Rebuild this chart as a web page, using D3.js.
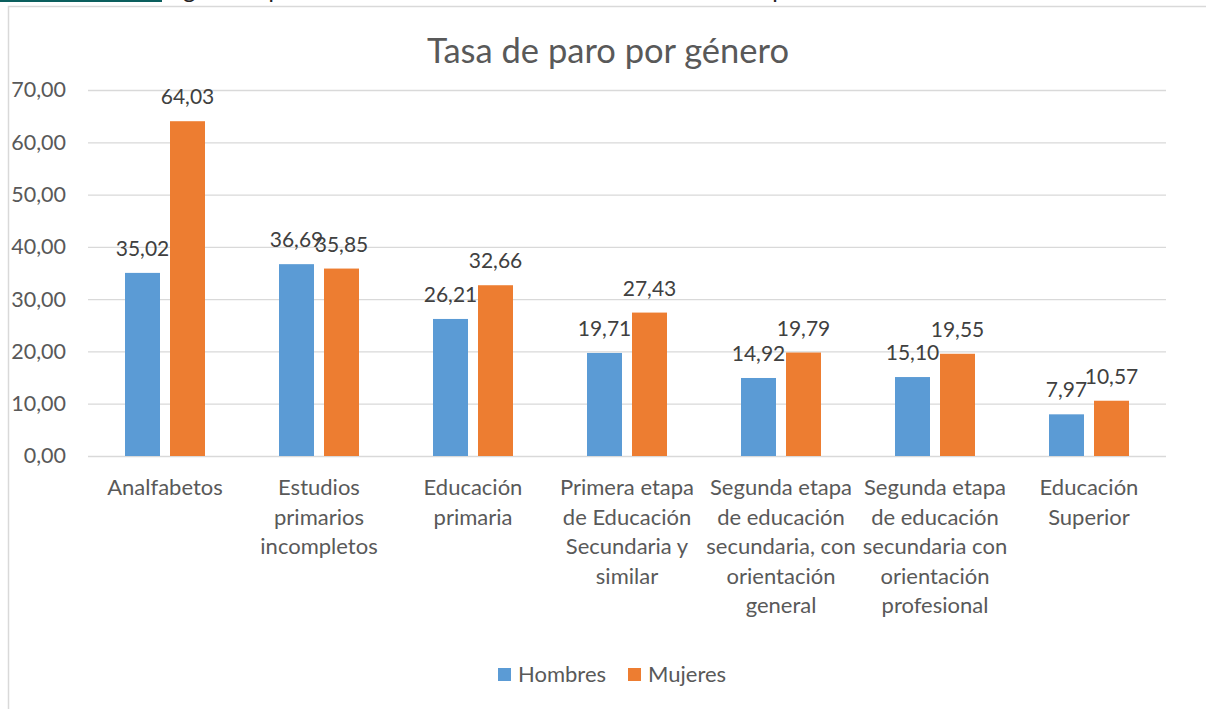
<!DOCTYPE html>
<html><head><meta charset="utf-8">
<script src="https://cdn.jsdelivr.net/npm/d3@7"></script>
<style>
body{margin:0;background:#fff;}
svg{display:block;font-family:Lato, "Noto Sans", sans-serif;}
</style></head>
<body><svg id="c" width="1206" height="709"></svg>
<script>
const categories = ["Analfabetos","Estudios primarios incompletos","Educación primaria","Primera etapa de Educación Secundaria y similar","Segunda etapa de educación secundaria, con orientación general","Segunda etapa de educación secundaria con orientación profesional","Educación Superior"];
const categoryLines = [["Analfabetos"],["Estudios","primarios","incompletos"],["Educación","primaria"],["Primera etapa","de Educación","Secundaria y","similar"],["Segunda etapa","de educación","secundaria, con","orientación","general"],["Segunda etapa","de educación","secundaria con","orientación","profesional"],["Educación","Superior"]];
const hombres = [35.02,36.69,26.21,19.71,14.92,15.10,7.97];
const mujeres = [64.03,35.85,32.66,27.43,19.79,19.55,10.57];
const seriesNames = ["Hombres","Mujeres"];
const yTicks = [0,10,20,30,40,50,60,70];
const title = "Tasa de paro por género";
const caption = "gráfico que estudiamos los niveles de la educación en España";

const colors = ["#5B9BD5","#ED7D31"];
const svg = d3.select("#c");
const fmt = v => v.toFixed(2).replace(".", ",");

// page remnants
svg.append("rect").attr("x",0).attr("y",0).attr("width",162).attr("height",2).attr("fill","#0b5f5e");
svg.append("text").attr("x",183).attr("y",-2).attr("font-size",24).attr("fill","#222").text(caption);
// chart frame
svg.append("rect").attr("x",8.5).attr("y",6.5).attr("width",1300).attr("height",800)
  .attr("fill","none").attr("stroke","#d9d9d9").attr("stroke-width",1.5);

const x0 = 88, x1 = 1166, yTop = 90, yBot = 456;
const x = d3.scaleBand().domain(categories).range([x0,x1]);
const y = d3.scaleLinear().domain([0,70]).range([yBot,yTop]);

// gridlines
svg.append("g").selectAll("line").data(yTicks).join("line")
  .attr("x1",x0).attr("x2",x1).attr("y1",d=>y(d)+0.5).attr("y2",d=>y(d)+0.5)
  .attr("stroke","#d9d9d9").attr("stroke-width",1.3);

// y axis labels
const yAxis = d3.axisLeft(y).tickValues(yTicks).tickFormat(fmt).tickSize(0).tickPadding(0);
const ya = svg.append("g").attr("transform",`translate(66,0)`).call(yAxis);
ya.select(".domain").remove();
ya.selectAll("text").attr("font-size",21.5).attr("fill","#595959").attr("font-family","Lato, sans-serif");

// title
svg.append("text").attr("x",608).attr("y",63).attr("text-anchor","middle")
  .attr("font-size",34.5).attr("fill","#595959").text(title);

const bw = 35, gap = 10;
const sub = d3.scaleBand().domain([0,1]).range([0, 2*bw+gap]).paddingInner(gap/(bw+gap)).paddingOuter(0);
const data = [hombres, mujeres];
data.forEach((vals, si) => {
  const g = svg.append("g");
  g.selectAll("rect").data(vals).join("rect")
    .attr("x",(d,i)=>x(categories[i]) + x.bandwidth()/2 - (2*bw+gap)/2 + sub(si))
    .attr("y",d=>y(d)).attr("width",sub.bandwidth()).attr("height",d=>yBot-y(d))
    .attr("fill",colors[si]);
  g.selectAll("text").data(vals).join("text")
    .attr("x",(d,i)=>x(categories[i]) + x.bandwidth()/2 - (2*bw+gap)/2 + sub(si) + sub.bandwidth()/2)
    .attr("y",d=>y(d)-17).attr("text-anchor","middle").attr("font-size",21).attr("fill","#404040")
    .text(fmt);
});

// category labels
const cl = svg.append("g");
categoryLines.forEach((lines,i)=>{
  const t = cl.append("text").attr("text-anchor","middle").attr("font-size",22).attr("fill","#595959");
  lines.forEach((ln,j)=>{
    t.append("tspan").attr("x",x(categories[i])+x.bandwidth()/2).attr("y",495+j*29.5).text(ln);
  });
});

// legend
const leg = svg.append("g");
const legX = [498, 628];
seriesNames.forEach((n,i)=>{
  leg.append("rect").attr("x",legX[i]).attr("y",668).attr("width",13).attr("height",13).attr("fill",colors[i]);
  leg.append("text").attr("x",legX[i]+20).attr("y",682).attr("font-size",22).attr("fill","#595959").text(n);
});
</script></body></html>
